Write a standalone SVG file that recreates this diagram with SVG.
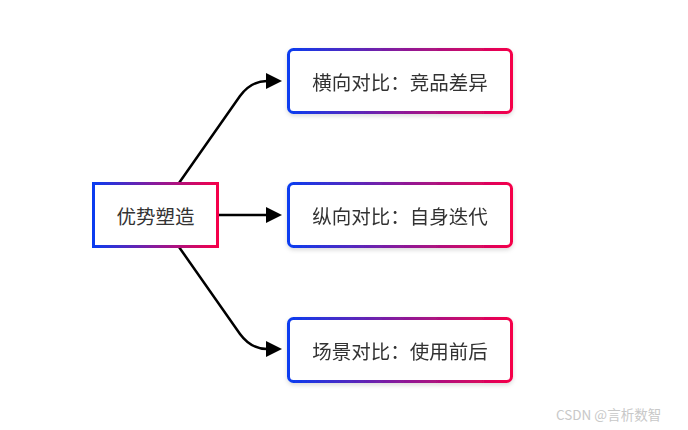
<svg xmlns="http://www.w3.org/2000/svg" width="688" height="430" viewBox="0 0 688 430">
<defs>
<linearGradient id="g" x1="0" y1="0" x2="1" y2="0">
<stop offset="0" stop-color="#0a3cf0"/>
<stop offset="0.5" stop-color="#8a1a9a"/>
<stop offset="1" stop-color="#f5004a"/>
</linearGradient>
<filter id="sh" x="-10%" y="-20%" width="120%" height="150%">
<feDropShadow dx="0" dy="2" stdDeviation="2" flood-color="#000" flood-opacity="0.15"/>
</filter>
<marker id="ah" viewBox="0 0 16 16" refX="1" refY="8" markerWidth="16" markerHeight="16" orient="auto" markerUnits="userSpaceOnUse">
<path d="M0,0 L16,8 L0,16 z" fill="#000"/>
</marker>
</defs>
<style>
.box{fill:#fff;stroke:url(#g);stroke-width:3}
.t{font-family:"Noto Sans CJK SC","Liberation Sans",sans-serif;font-size:19.5px;fill:#333;text-anchor:middle;dominant-baseline:central}
.c{fill:none;stroke:#000;stroke-width:2.5}
.wm{font-family:"Noto Sans CJK SC","Liberation Sans",sans-serif;font-size:13.5px;fill:#c8c8c8}
</style>
<rect width="688" height="430" fill="#fff"/>
<g id="connectors">
<path class="c" d="M179,183 L240,96 Q251,81 267,81" marker-end="url(#ah)"/>
<path class="c" d="M218,215 L267,215" marker-end="url(#ah)"/>
<path class="c" d="M179,247 L240,334 Q251,349 267,349" marker-end="url(#ah)"/>
</g>
<g id="n0">
<rect class="box" x="93.5" y="183.5" width="124" height="63"/>
<text class="t" x="155.5" y="215">优势塑造</text>
</g>
<g id="n1" filter="url(#sh)">
<rect class="box" x="288.5" y="49.5" width="223" height="63" rx="5"/>
<text class="t" x="400" y="81">横向对比：竞品差异</text>
</g>
<g id="n2" filter="url(#sh)">
<rect class="box" x="288.5" y="183.5" width="223" height="63" rx="5"/>
<text class="t" x="400" y="215">纵向对比：自身迭代</text>
</g>
<g id="n3" filter="url(#sh)">
<rect class="box" x="288.5" y="318.5" width="223" height="63" rx="5"/>
<text class="t" x="400" y="350">场景对比：使用前后</text>
</g>
<text class="wm" x="556" y="420">CSDN @言析数智</text>
</svg>
